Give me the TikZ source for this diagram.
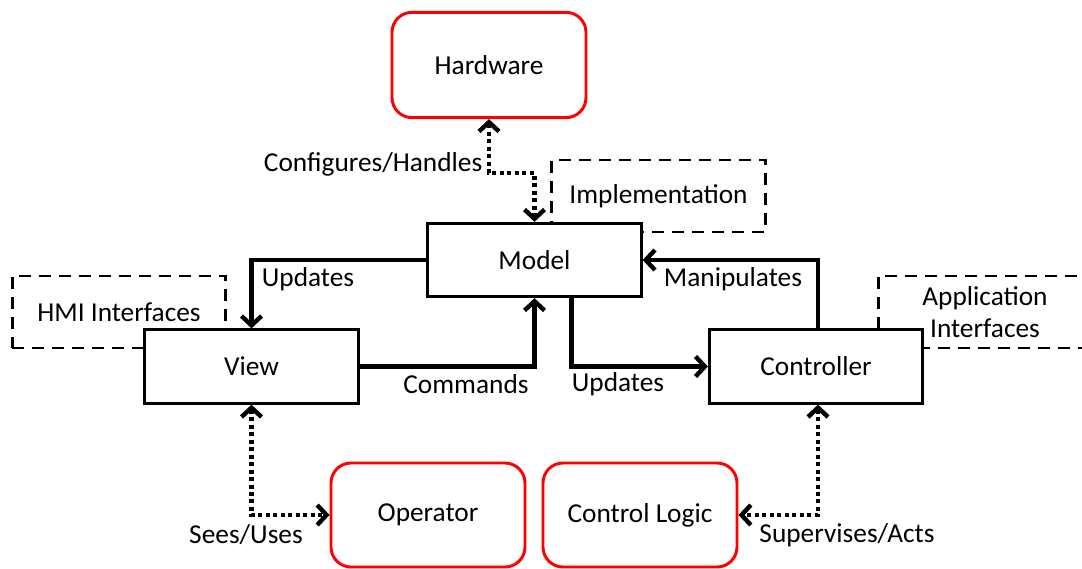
\documentclass[tikz,border=0pt]{standalone}
\usepackage{fontspec}
\setmainfont{Carlito}
\usetikzlibrary{arrows.meta}

\begin{document}
\begin{tikzpicture}[x=0.75pt,y=-0.75pt,
  font=\fontsize{20.5}{24}\selectfont,
  block/.style={draw,line width=2.2pt,fill=white,minimum width=160pt,minimum height=55pt},
  actor/.style={draw=red,line width=2.2pt,rounded corners=15pt,fill=white,minimum width=145.5pt,minimum height=78pt},
  layer/.style={draw,line width=2.2pt,dash pattern=on 9pt off 6pt,minimum width=160pt,minimum height=54pt,align=center},
  flow/.style={line width=3.3pt,-{Straight Barb[length=7pt,width=15pt]}},
  link/.style={line width=3.3pt,dash pattern=on 3pt off 2.6pt,{Straight Barb[length=7pt,width=15pt]}-{Straight Barb[length=7pt,width=15pt]}}]
\clip (0,0) rectangle (1082,568);
\fill[white] (0,0) rectangle (1082,568);

% layers behind the blocks
\node[layer] (impl) at (658.5,196) {Implementation};
\node[layer] (hmi) at (119,312) {HMI Interfaces};
\node[layer] (appif) at (985,312) {Application\\Interfaces};

% main blocks
\node[actor,minimum height=79pt] (hw) at (489,65) {Hardware};
\node[block] (model) at (534.5,260) {Model};
\node[block] (view) at (251.5,366.5) {View};
\node[block] (ctrl) at (816,366.5) {Controller};
\node[actor] (op) at (428,515) {Operator};
\node[actor] (logic) at (640,515) {Control Logic};

% connectors
\draw[link] (hw.south) -- ++(0,54) -| (model.north);
\draw[flow] (model.west) -| (view.north);
\draw[flow] (view.east) -| (model.south);
\draw[flow] ([xshift=27.75pt]model.south) |- (ctrl.west);
\draw[flow] ([xshift=1.5pt]ctrl.north) |- (model.east);
\draw[link] (view.south) |- (op.west);
\draw[link] ([xshift=1.5pt]ctrl.south) |- (logic.east);

% labels
\node[anchor=east] (cfg) at (487,164) {Configures/Handles};
\node (upd1) at (308,279) {Updates};
\node (manip) at (733,279) {Manipulates};
\node (cmd) at (466,384) {Commands};
\node (upd2) at (618,384) {Updates};
\node (sees) at (246,535) {Sees/Uses};
\node (superv) at (847,535) {Supervises/Acts};
\end{tikzpicture}
\end{document}
